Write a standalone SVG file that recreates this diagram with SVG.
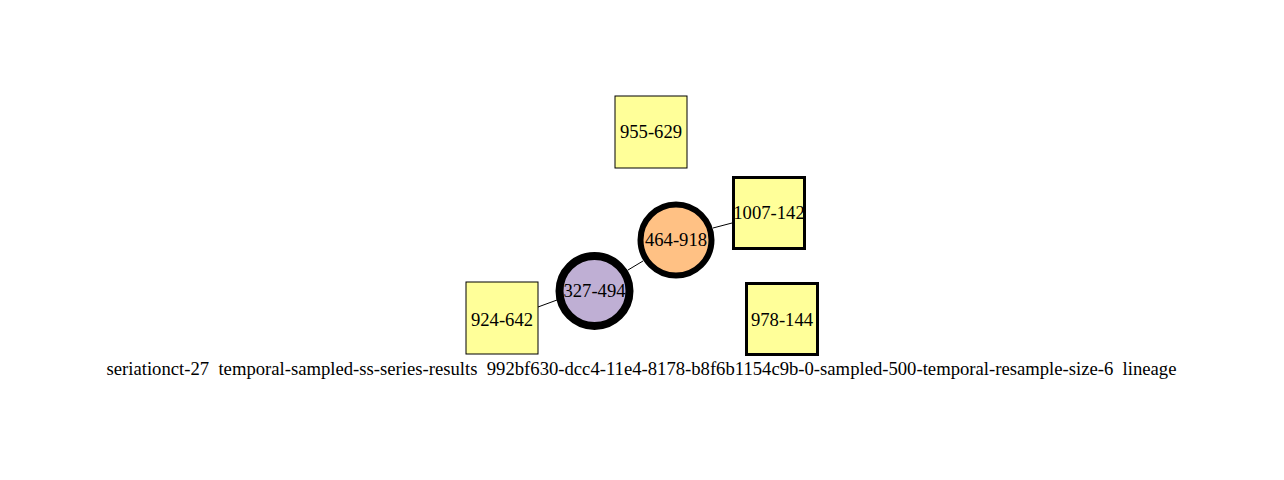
<svg xmlns="http://www.w3.org/2000/svg" width="1284" height="480" viewBox="0 0 1284 480">
<style>
text{font-family:"Liberation Serif","Times New Roman",serif;font-size:18.67px;fill:#000;}
.n{text-anchor:middle;}
.sq{fill:#ffff99;stroke:#000;}
.e{stroke:#000;stroke-width:1;fill:none;}
</style>
<rect width="1284" height="480" fill="#fff"/>
<g id="edges">
<line class="e" x1="538" y1="307" x2="557" y2="300"/>
<line class="e" x1="628" y1="270" x2="643" y2="261"/>
<line class="e" x1="713" y1="228" x2="732" y2="223"/>
</g>
<g id="n955-629"><rect class="sq" x="615" y="96" width="72" height="72" stroke-width="1"/><text class="n" x="651" y="138">955-629</text></g>
<g id="n1007-142"><rect class="sq" x="733.5" y="177.5" width="71" height="71" stroke-width="3"/><text class="n" x="769" y="219">1007-142</text></g>
<g id="n978-144"><rect class="sq" x="746.5" y="283.5" width="71" height="71" stroke-width="3"/><text class="n" x="782" y="326">978-144</text></g>
<g id="n924-642"><rect class="sq" x="466" y="282" width="72" height="72" stroke-width="1"/><text class="n" x="502" y="326">924-642</text></g>
<g id="n464-918"><circle cx="676" cy="240" r="35.5" fill="#ffc184" stroke="#000" stroke-width="6"/><text class="n" x="676" y="246">464-918</text></g>
<g id="n327-494"><circle cx="594.5" cy="291" r="35" fill="#bfafd4" stroke="#000" stroke-width="8"/><text class="n" x="594.5" y="297">327-494</text></g>
<text x="641.5" y="375" class="n" xml:space="preserve" style="white-space:pre">seriationct-27  temporal-sampled-ss-series-results  992bf630-dcc4-11e4-8178-b8f6b1154c9b-0-sampled-500-temporal-resample-size-6  lineage</text>
</svg>
